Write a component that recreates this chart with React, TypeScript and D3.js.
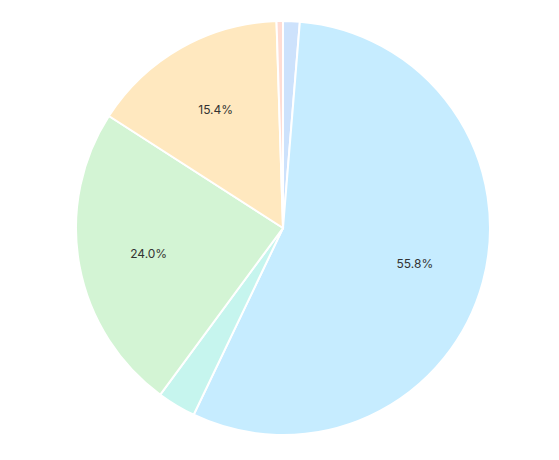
import React from "react";
import * as d3 from "d3";

const categories = ["A", "B", "C", "D", "E", "F"];
const values = [1.3, 55.8, 3.0, 24.0, 15.4, 0.5];
const colors = ["#cde2fc", "#c6ecff", "#c6f5ee", "#d3f4d4", "#ffe8bf", "#ffdcd4"];

const W = 559;
const H = 460;
const cx = 283;
const cy = 228;
const R = 207;

export default function App() {
  const pie = d3.pie<number>().sort(null).value((d) => d)(values);
  const arc = d3.arc<d3.PieArcDatum<number>>().innerRadius(0).outerRadius(R);
  const labelArc = d3.arc<d3.PieArcDatum<number>>().innerRadius(R * 0.66).outerRadius(R * 0.66);
  const total = d3.sum(values);
  return (
    <svg width={W} height={H} style={{ position: "absolute", left: 0, top: 0 }}>
      <g transform={`translate(${cx},${cy})`}>
        {pie.map((p, i) => (
          <path key={categories[i]} d={arc(p) || ""} fill={colors[i]} stroke="#fff" strokeWidth={2} />
        ))}
        {pie.map((p, i) => {
          const pct = (values[i] / total) * 100;
          if (pct < 5) return null;
          const [x, y] = labelArc.centroid(p);
          return (
            <text key={"l" + i} x={x} y={y + 1.5} textAnchor="middle" dominantBaseline="middle"
              fontFamily="Inter, 'Noto Sans', sans-serif" fontSize={12} fill="#333">
              {pct.toFixed(1)}%
            </text>
          );
        })}
      </g>
    </svg>
  );
}
